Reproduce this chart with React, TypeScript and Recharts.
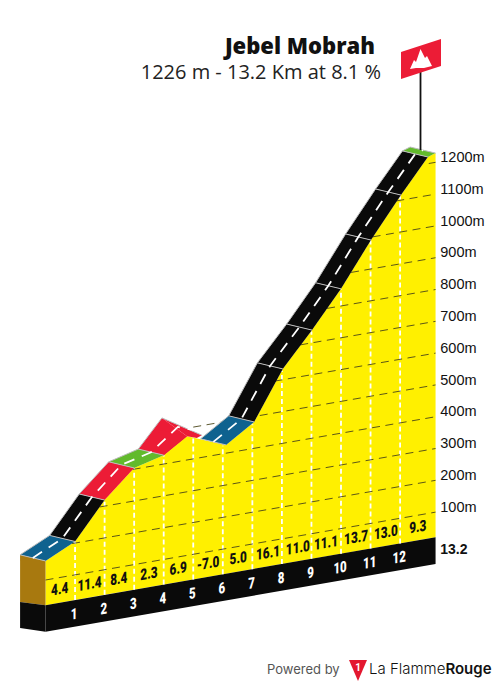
import React from 'react';
import { ComposedChart, Area, Scatter, XAxis, YAxis } from 'recharts';

const W = 495;
const H = 686;

// oblique view: elevation is lifted along the distance, the road gets a depth
const SHEAR = 16.17;
const DEPTH_KM = 0.86;
const DEPTH_RISE = 33;
const BASE_ELEV = 21;
const STRIP_ELEV = -63;

// road corners along the climb (km, metres)
const stationKm = [0, 1, 2, 3, 4, 4.79, 6.11, 7.06, 8.03, 9.02, 10, 11.015, 12.03, 12.94, 13.2];
const stationElev = [160, 205, 319, 404, 428, 475, 426, 483, 634, 740, 854, 991, 1116, 1221, 1229];

// one colour per road piece, null = drawn apart
const roadColors = [
  '#0F628F', '#0A0A0A', '#EC1C36', '#62BA2C', '#EC1C36', null, '#0F628F',
  '#0A0A0A', '#0A0A0A', '#0A0A0A', '#0A0A0A', '#0A0A0A', '#0A0A0A', '#62BA2C',
];

// the crest around km 5, where the road is seen from behind
const crestKm = [4, 4.79, 3.94, 3.14];
const crestElev = [428, 475, 546, 461];
const descentKm = [3.94, 5.29, 5.12, 4.79];
const descentElev = [546, 470, 464, 475];
const centerCrestKm = [3.57, 4.48, 5.0];
const centerCrestElev = [444, 509, 491];

const gridElev = [100, 200, 300, 400, 500, 600, 700, 800, 900, 1000, 1100, 1200];
const gridStartKm = [0, 0.9, 1.83, 2.95, 5, 7.75, 8.62, 9.53, 10.34, 11.07, 11.87, 12.97];

const kmMarks = [1, 2, 3, 4, 5, 6, 7, 8, 9, 10, 11, 12];
const kmMarkElev = [205, 319, 404, 428, 468, 425, 477, 629, 736, 853, 989, 1112];

const gradeLabels = ['4.4', '11.4', '8.4', '2.3', '6.9', '-7.0', '5.0', '16.1', '11.0', '11.1', '13.7', '13.0', '9.3'];
const gradeKm = [0.48, 1.49, 2.48, 3.5, 4.49, 5.5, 6.52, 7.53, 8.54, 9.49, 10.51, 11.52, 12.6];

const lift = (km: number, elev: number) => elev + SHEAR * km;
const pt = (km: number, elev: number, label?: string) => ({ x: km, y: lift(km, elev), label });
const back = (km: number, elev: number) => pt(km - DEPTH_KM, elev + DEPTH_RISE);

const faceData = stationKm.map((km, i) => ({
  x: km,
  face: [lift(km, BASE_ELEV), lift(km, stationElev[i])],
}));
const stripData = [0, 13.2].map(km => ({ x: km, strip: [lift(km, STRIP_ELEV), lift(km, BASE_ELEV)] }));

const hidden = () => <g />;

const shape = (key: string, points: { x: number; y: number }[], line: Record<string, unknown>) => (
  <Scatter key={key} data={points} dataKey="y" shape={hidden} line={line} isAnimationActive={false} />
);

const skewText = (size: number, fill: string, squeeze: number) => (props: any) => (
  <text
    transform={`translate(${props.cx},${props.cy}) skewY(-9.9) scale(${squeeze},1)`}
    textAnchor="middle"
    dominantBaseline="central"
    fontFamily="Roboto, sans-serif"
    fontWeight={900}
    fontSize={size}
    fill={fill}
  >
    {props.payload.label}
  </text>
);

const sideText = (bold: boolean) => (props: any) => (
  <text
    x={props.cx}
    y={props.cy}
    dominantBaseline="central"
    fontFamily="'Liberation Sans', sans-serif"
    fontWeight={bold ? 700 : 400}
    fontSize={bold ? 14 : 14.5}
    fill="#111"
  >
    {props.payload.label}
  </text>
);

const App = () => {
  const pieces = roadColors.map((color, i) => {
    if (!color) return null;
    const a = i, b = i + 1;
    return shape(`road-${i}`, [
      pt(stationKm[a], stationElev[a]),
      pt(stationKm[b], stationElev[b]),
      back(stationKm[b], stationElev[b]),
      back(stationKm[a], stationElev[a]),
    ], { fill: color, stroke: 'none' });
  });

  const dividers = stationKm.map((km, i) => (
    i === 5 ? null : shape(`div-${i}`, [back(km, stationElev[i]), pt(km, stationElev[i])], { fill: 'none', stroke: '#BDBDBD', strokeWidth: 1 })
  ));

  const backLeft = [0, 1, 2, 3, 4].map(i => back(stationKm[i], stationElev[i])).concat(pt(crestKm[2], crestElev[2]), pt(descentKm[1], descentElev[1]));
  const backRight = [6, 7, 8, 9, 10, 11, 12, 13, 14].map(i => back(stationKm[i], stationElev[i]));

  const centerLeft = [0, 1, 2, 3].map(i => pt(stationKm[i] - DEPTH_KM / 2, stationElev[i] + DEPTH_RISE / 2))
    .concat(centerCrestKm.map((km, i) => pt(km, centerCrestElev[i])));
  const centerRight = [6, 7, 8, 9, 10, 11, 12, 13, 14].map(i => pt(stationKm[i] - DEPTH_KM / 2, stationElev[i] + DEPTH_RISE / 2));

  return (
    <div style={{ position: 'absolute', left: 0, top: 0, width: W, height: H, background: '#fff', overflow: 'hidden' }}>
      <ComposedChart width={W} height={H} data={faceData} margin={{ top: 0, right: 0, bottom: 0, left: 0 }}>
        <XAxis dataKey="x" type="number" domain={[-1.5398, 15.2115]} allowDataOverflow hide />
        <YAxis dataKey="y" type="number" domain={[-233.3, 1923.9]} allowDataOverflow hide />

        <Area dataKey="face" type="linear" fill="#FFF000" fillOpacity={1} stroke="none" dot={false} activeDot={false} isAnimationActive={false} />
        <Area data={stripData} dataKey="strip" type="linear" fill="#0A0A0A" fillOpacity={1} stroke="none" dot={false} activeDot={false} isAnimationActive={false} />

        {shape('side', [pt(0, 160), pt(0, BASE_ELEV), back(0, 12), back(0, 160)], { fill: '#A8790F', stroke: 'none' })}
        {shape('side-strip', [pt(0, BASE_ELEV), pt(0, STRIP_ELEV), back(0, -70), back(0, 12)], { fill: '#0A0A0A', stroke: 'none' })}

        {kmMarks.map((km, i) => shape(`mark-${km}`, [pt(km, BASE_ELEV), pt(km, kmMarkElev[i])], {
          fill: 'none', stroke: '#FFFFFF', strokeWidth: 1.8, strokeDasharray: '5 3',
        }))}
        {gridElev.map((elev, i) => shape(`grid-${elev}`, [pt(gridStartKm[i], elev), pt(13.2, elev)], {
          fill: 'none', stroke: '#4A4518', strokeWidth: 0.9, strokeDasharray: '8 5.5',
        }))}

        {shape('crest', crestKm.map((km, i) => pt(km, crestElev[i])), { fill: '#EC1C36', stroke: 'none' })}
        {shape('descent', descentKm.map((km, i) => pt(km, descentElev[i])), { fill: '#EC1C36', stroke: 'none' })}
        {pieces}

        {dividers}
        {shape('back-left', backLeft, { fill: 'none', stroke: '#BDBDBD', strokeWidth: 1 })}
        {shape('back-right', backRight, { fill: 'none', stroke: '#BDBDBD', strokeWidth: 1 })}
        {shape('center-left', centerLeft, { fill: 'none', stroke: '#FFFFFF', strokeWidth: 1.8, strokeDasharray: '11 8' })}
        {shape('center-right', centerRight, { fill: 'none', stroke: '#FFFFFF', strokeWidth: 1.8, strokeDasharray: '11 8' })}

        <Scatter
          data={gradeLabels.map((label, i) => pt(gradeKm[i], BASE_ELEV + 44, label))}
          dataKey="y"
          shape={skewText(15.5, '#111', 0.76)}
          isAnimationActive={false}
        />
        <Scatter
          data={kmMarks.map(km => pt(km - 0.03, BASE_ELEV - 42, String(km)))}
          dataKey="y"
          shape={skewText(15.5, '#FFFFFF', 0.74)}
          isAnimationActive={false}
        />
        <Scatter
          data={gridElev.map(elev => pt(13.36, elev + 14, `${elev}m`))}
          dataKey="y"
          shape={sideText(false)}
          isAnimationActive={false}
        />
        <Scatter data={[pt(13.36, -20, '13.2')]} dataKey="y" shape={sideText(true)} isAnimationActive={false} />
      </ComposedChart>

      <div style={{ position: 'absolute', right: 120, top: 30, fontFamily: "'Open Sans', sans-serif", fontWeight: 800, fontSize: 22, lineHeight: '30px', color: '#111', whiteSpace: 'nowrap' }}>
        Jebel Mobrah
      </div>
      <div style={{ position: 'absolute', right: 114, top: 58, fontFamily: "'Open Sans', sans-serif", fontSize: 20, lineHeight: '28px', color: '#222', whiteSpace: 'nowrap' }}>
        1226 m - 13.2 Km at 8.1 %
      </div>

      {/* flag on the summit */}
      <svg width={W} height={H} style={{ position: 'absolute', left: 0, top: 0, pointerEvents: 'none' }}>
        <line x1={420.5} y1={72} x2={420.5} y2={150} stroke="#111" strokeWidth={1.8} />
        <polygon points="401,52 441,39 441,66 401,79" fill="#EC1C36" />
        <polygon points="410,69 414,60 416,62 420.5,49 425,58 427,56 432,66 424,68 416,68" fill="#fff" />
        <polygon points="349,660 367,660 358,681" fill="#E3172F" />
        <text x={358} y={671} textAnchor="middle" fontFamily="Roboto, sans-serif" fontWeight={700} fontSize={10} fill="#fff">1</text>
      </svg>

      <div style={{ position: 'absolute', left: 267, top: 661, fontFamily: 'Inter, sans-serif', fontSize: 13, lineHeight: '17px', color: '#555', whiteSpace: 'nowrap' }}>
        Powered by
      </div>
      <div style={{ position: 'absolute', left: 369, top: 658, fontFamily: 'Inter, sans-serif', fontSize: 15, lineHeight: '22px', color: '#111', whiteSpace: 'nowrap', fontWeight: 300 }}>
        La Flamme<span style={{ fontWeight: 600 }}>Rouge</span>
      </div>
    </div>
  );
};

export default App;
